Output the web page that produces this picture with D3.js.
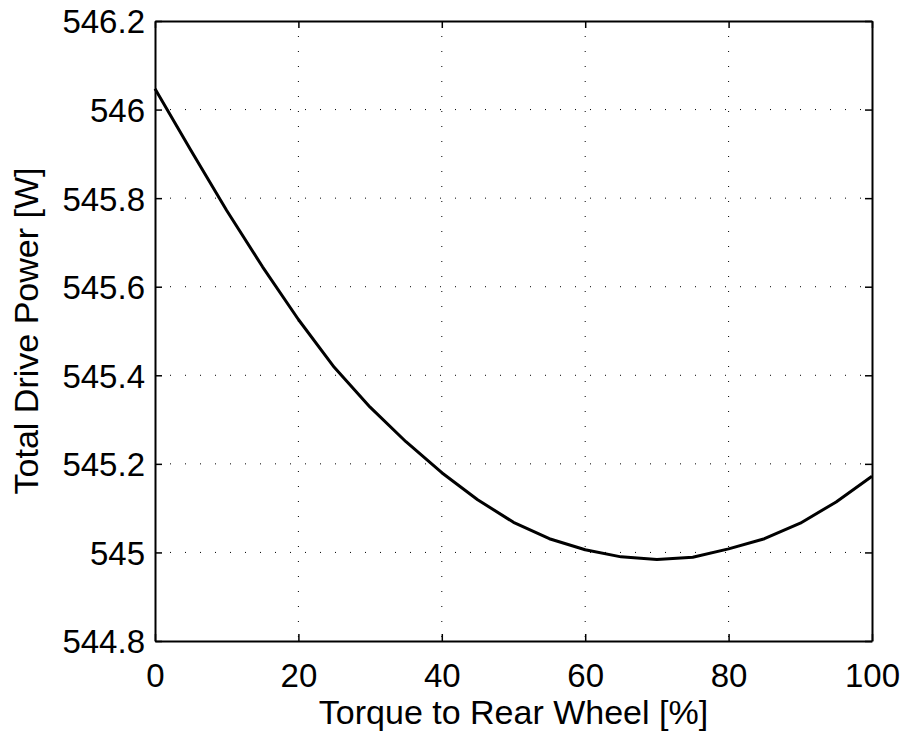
<!DOCTYPE html>
<html>
<head>
<meta charset="utf-8">
<script src="https://cdn.jsdelivr.net/npm/d3@7"></script>
<style>
  body { margin: 0; background: #fff; }
  text { font-family: "Liberation Sans", Arial, sans-serif; fill: #000; }
</style>
</head>
<body>
<div id="chart"></div>
<script>
// torque split to rear wheel [%]
var torqueRear = [0, 5, 10, 15, 20, 25, 30, 35, 40, 45, 50, 55, 60, 65, 70, 75, 80, 85, 90, 95, 100];
// total drive power [W]
var drivePower = [546.047, 545.908, 545.772, 545.645, 545.526, 545.418, 545.328, 545.250, 545.180, 545.119,
                  545.068, 545.031, 545.006, 544.990, 544.984, 544.989, 545.008, 545.031, 545.066, 545.114, 545.172];
var xTicks = [0, 20, 40, 60, 80, 100];
var yTicks = [544.8, 545, 545.2, 545.4, 545.6, 545.8, 546, 546.2];

var width = 906, height = 735,
    margin = {left: 155, top: 21, right: 34, bottom: 94},
    plotW = width - margin.left - margin.right,
    plotH = height - margin.top - margin.bottom,
    tickLen = 7,
    tickFont = "33px",
    labelFont = "34px";

var svg = d3.select("#chart").append("svg")
    .attr("width", width).attr("height", height);

var x = d3.scaleLinear().domain([0, 100]).range([0, plotW]);
var y = d3.scaleLinear().domain([544.8, 546.2]).range([plotH, 0]);

var g = svg.append("g").attr("transform", "translate(" + margin.left + "," + margin.top + ")");

// dotted grid
g.append("g").selectAll("line").data(xTicks.slice(1, -1)).enter().append("line")
    .attr("x1", function (d) { return x(d); }).attr("x2", function (d) { return x(d); })
    .attr("y1", 0).attr("y2", plotH)
    .attr("stroke", "#000").attr("stroke-width", 1).attr("stroke-dasharray", "1,14");
g.append("g").selectAll("line").data(yTicks.slice(1, -1)).enter().append("line")
    .attr("y1", function (d) { return y(d); }).attr("y2", function (d) { return y(d); })
    .attr("x1", 0).attr("x2", plotW)
    .attr("stroke", "#000").attr("stroke-width", 1).attr("stroke-dasharray", "1,14");

// axes, ticks pointing inward on all four sides
function fmt(d) { return d3.format("~g")(d); }

var axBottom = g.append("g").attr("transform", "translate(0," + plotH + ")")
    .call(d3.axisBottom(x).tickValues(xTicks).tickFormat(fmt).tickSizeInner(-tickLen).tickSizeOuter(0).tickPadding(23));
var axTop = g.append("g")
    .call(d3.axisTop(x).tickValues(xTicks).tickFormat("").tickSizeInner(-tickLen).tickSizeOuter(0));
var axLeft = g.append("g")
    .call(d3.axisLeft(y).tickValues(yTicks).tickFormat(fmt).tickSizeInner(-tickLen).tickSizeOuter(0).tickPadding(10));
var axRight = g.append("g").attr("transform", "translate(" + plotW + ",0)")
    .call(d3.axisRight(y).tickValues(yTicks).tickFormat("").tickSizeInner(-tickLen).tickSizeOuter(0));

[axBottom, axTop, axLeft, axRight].forEach(function (a) {
    a.select(".domain").attr("stroke", "#000").attr("stroke-width", 2);
    a.selectAll(".tick line").attr("stroke", "#000").attr("stroke-width", 1.5);
    a.selectAll("text").style("font-size", tickFont).attr("font-family", null);
});
axBottom.selectAll("text").attr("dy", "0.71em");
axLeft.selectAll("text").attr("dy", "0.36em");

// curve
var line = d3.line()
    .x(function (d, i) { return x(torqueRear[i]); })
    .y(function (d) { return y(d); });

g.append("path").datum(drivePower)
    .attr("d", line)
    .attr("fill", "none").attr("stroke", "#000").attr("stroke-width", 3)
    .attr("stroke-linejoin", "round");

// axis labels
svg.append("text")
    .attr("x", margin.left + plotW / 2).attr("y", 724)
    .attr("text-anchor", "middle").style("font-size", labelFont)
    .text("Torque to Rear Wheel [%]");
svg.append("text")
    .attr("transform", "translate(38," + (margin.top + plotH / 2) + ") rotate(-90)")
    .attr("text-anchor", "middle").style("font-size", labelFont)
    .text("Total Drive Power [W]");
</script>
</body>
</html>
